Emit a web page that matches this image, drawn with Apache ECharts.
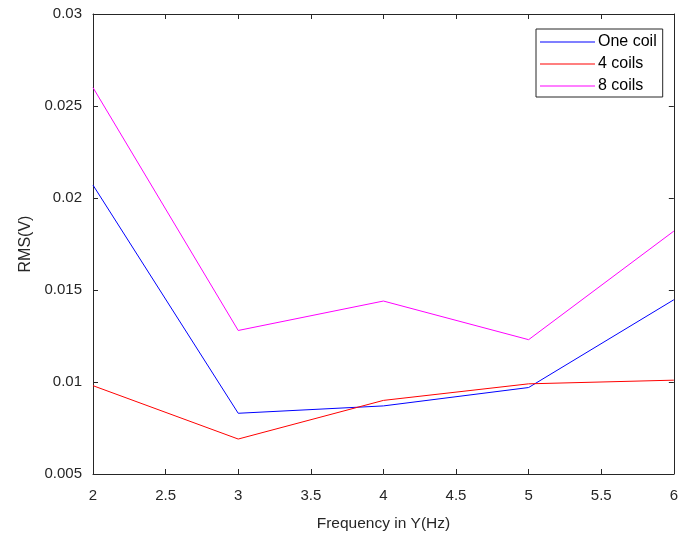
<!DOCTYPE html>
<html>
<head>
<meta charset="utf-8">
<script src="https://cdn.jsdelivr.net/npm/echarts@6/dist/echarts.min.js"></script>
<style>
  html, body { margin: 0; padding: 0; background: #fff; }
  #chart { width: 681px; height: 537px; }
</style>
</head>
<body>
<div id="chart"></div>
<script>
// frequencies (Hz)
var freq = [2, 3, 4, 5, 6];
// RMS values
var oneCoil = [0.0207, 0.0083, 0.0087, 0.0097, 0.01447];
var fourCoils = [0.0098, 0.0069, 0.0090, 0.0099, 0.0101];
var eightCoils = [0.0260, 0.0128, 0.0144, 0.0123, 0.0182];

function pairs(ys) {
  return freq.map(function (x, i) { return [x, ys[i]]; });
}

var axisColor = '#262626';
var fontFam = 'Liberation Sans, Arial, sans-serif';

var chart = echarts.init(document.getElementById('chart'));

function lineSeries(name, data, color) {
  return {
    name: name,
    type: 'line',
    data: pairs(data),
    symbol: 'none',
    lineStyle: { color: color, width: 1 },
    itemStyle: { color: color },
    animation: false
  };
}

chart.setOption({
  animation: false,
  grid: { left: 93, right: 3, top: 14, bottom: 60 },
  legend: {
    orient: 'vertical',
    left: 536,
    top: 29,
    padding: [5, 6, 3, 4],
    icon: 'rect',
    itemWidth: 55,
    itemHeight: 1,
    itemGap: 6,
    borderColor: '#262626',
    borderWidth: 1,
    backgroundColor: '#fff',
    textStyle: { fontSize: 16, color: '#000', fontFamily: fontFam, padding: [0, 0, 0, -2] },
    data: ['One coil', '4 coils', '8 coils']
  },
  xAxis: [{
    type: 'value',
    min: 2, max: 6, interval: 0.5,
    name: 'Frequency in Y(Hz)',
    nameLocation: 'middle',
    nameGap: 42,
    nameTextStyle: { fontSize: 15.5, color: axisColor, fontFamily: fontFam },
    axisLine: { show: true, lineStyle: { color: axisColor, width: 1 } },
    axisTick: { show: true, inside: true, length: 5, lineStyle: { color: axisColor } },
    axisLabel: { fontSize: 15, color: axisColor, fontFamily: fontFam, margin: 14 },
    splitLine: { show: false }
  }, {
    type: 'value',
    position: 'top',
    min: 2, max: 6, interval: 0.5,
    axisLine: { show: true, lineStyle: { color: axisColor, width: 1 } },
    axisTick: { show: true, inside: true, length: 5, lineStyle: { color: axisColor } },
    axisLabel: { show: false },
    splitLine: { show: false }
  }],
  yAxis: [{
    type: 'value',
    min: 0.005, max: 0.03, interval: 0.005,
    name: 'RMS(V)',
    nameLocation: 'middle',
    nameGap: 58,
    nameTextStyle: { fontSize: 16, color: axisColor, fontFamily: fontFam },
    axisLine: { show: true, lineStyle: { color: axisColor, width: 1 } },
    axisTick: { show: true, inside: true, length: 5, lineStyle: { color: axisColor } },
    axisLabel: {
      fontSize: 15, color: axisColor, fontFamily: fontFam, margin: 11,
      formatter: function (v) { return String(parseFloat(v.toFixed(4))); }
    },
    splitLine: { show: false }
  }, {
    type: 'value',
    position: 'right',
    min: 0.005, max: 0.03, interval: 0.005,
    axisLine: { show: true, lineStyle: { color: axisColor, width: 1 } },
    axisTick: { show: true, inside: true, length: 5, lineStyle: { color: axisColor } },
    axisLabel: { show: false },
    splitLine: { show: false }
  }],
  series: [
    lineSeries('One coil', oneCoil, '#0000ff'),
    lineSeries('4 coils', fourCoils, '#ff0000'),
    lineSeries('8 coils', eightCoils, '#ff00ff')
  ]
});
</script>
</body>
</html>
